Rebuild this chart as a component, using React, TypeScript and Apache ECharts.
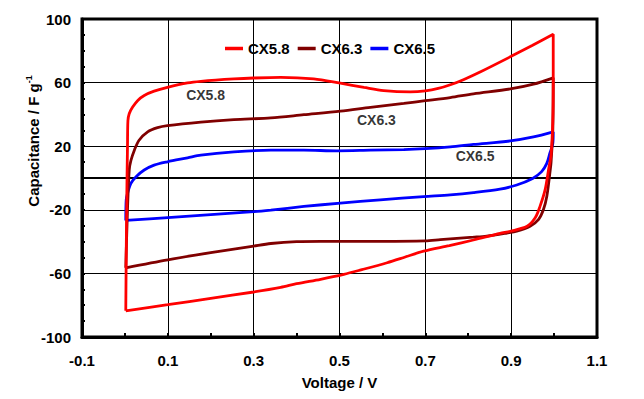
import React, { useEffect, useRef } from 'react';
import * as echarts from 'echarts';

const seriesNames = ['CX5.8', 'CX6.3', 'CX6.5'];
const seriesColors = ['#ff0000', '#800000', '#0000ff'];

// [voltage, capacitance] — closed CV loops (corner points repeated to keep them sharp)
const cx58: number[][] = [
  [0.002, -83.5], [0.004, -20], [0.006, 20], [0.007, 36], [0.010, 40.4], [0.018, 44.6],
  [0.030, 48.8], [0.045, 51.9], [0.068, 54.6], [0.099, 57], [0.146, 59.8], [0.177, 60.8],
  [0.254, 62.3], [0.30, 62.9], [0.363, 63.3], [0.44, 62.3], [0.502, 59.6], [0.557, 57],
  [0.603, 55], [0.665, 54.2], [0.70, 54.8], [0.73, 56.3], [0.76, 58.8], [0.79, 62],
  [0.83, 67], [0.90, 76.5], [0.95, 83.5], [0.998, 90.4], [0.998, 90.4],
  [0.998, 60], [0.997, 36], [0.993, 15], [0.987, 5], [0.979, -7.5], [0.967, -18],
  [0.956, -25], [0.937, -30.4], [0.898, -33.5], [0.874, -34.8], [0.812, -39],
  [0.756, -42.5], [0.696, -46], [0.65, -50], [0.611, -53.3], [0.55, -57.8], [0.51, -60.6],
  [0.456, -63.7], [0.40, -66.5], [0.363, -68.8], [0.30, -71.7], [0.20, -75.7], [0.10, -79.7],
  [0.002, -83.5], [0.002, -83.5],
];

const cx63: number[][] = [
  [0.002, -56.5], [0.006, -20], [0.010, 5], [0.014, 11], [0.022, 17.5], [0.033, 23.75],
  [0.053, 29], [0.076, 31.7], [0.099, 33], [0.177, 35.2], [0.254, 36.7], [0.34, 37.8],
  [0.417, 39.8], [0.502, 42], [0.572, 44.4], [0.65, 46.9], [0.70, 48.6], [0.758, 50.6],
  [0.812, 52.9], [0.898, 56], [0.952, 59], [0.998, 63], [0.998, 63],
  [0.997, 30], [0.993, 10], [0.991, 5], [0.983, -11.7], [0.975, -20], [0.964, -26],
  [0.944, -30.4], [0.913, -33.5], [0.89, -34.6], [0.843, -36.5], [0.812, -37.2],
  [0.735, -38.75], [0.70, -39.5], [0.60, -39.8], [0.456, -39.8], [0.40, -40], [0.34, -41.2],
  [0.30, -42.8], [0.20, -47], [0.10, -51.5], [0.002, -56.5], [0.002, -56.5],
];

const cx65: number[][] = [
  [0.002, -26.7], [0.003, -13.75], [0.006, -9.6], [0.014, -3.3], [0.026, 0.8], [0.045, 5],
  [0.068, 8.1], [0.099, 10.2], [0.146, 12.7], [0.177, 14.4], [0.254, 16.4], [0.34, 17.5],
  [0.417, 17.5], [0.495, 17.1], [0.572, 17.5], [0.65, 17.9], [0.70, 18.5], [0.758, 19.6],
  [0.812, 21.1], [0.898, 23.3], [0.952, 25.8], [0.998, 29], [0.998, 29],
  [0.997, 21.7], [0.99, 15.4], [0.983, 9.2], [0.971, 4], [0.95, -0.3], [0.913, -4.4],
  [0.874, -7], [0.812, -9.2], [0.758, -10.6], [0.696, -11.7], [0.595, -13.75],
  [0.502, -15.8], [0.417, -17.9], [0.34, -20.2], [0.30, -21.2], [0.10, -24.9],
  [0.002, -26.7], [0.002, -26.7],
];

const seriesData = [cx58, cx63, cx65];

const annotationText = ['CX5.8', 'CX6.3', 'CX6.5'];
const annotationX = [0.188, 0.586, 0.816];
const annotationY = [52.5, 36.25, 13.75];

const xMin = -0.1;
const xMax = 1.1;
const xInterval = 0.2;
const yMin = -100;
const yMax = 100;
const yInterval = 40;

const FONT = "'Liberation Sans', Arial, sans-serif";

export default function App() {
  const ref = useRef<HTMLDivElement>(null);
  useEffect(() => {
    if (!ref.current) return;
    const chart = echarts.init(ref.current, undefined, { renderer: 'svg' });
    const lineSeries = seriesNames.map((name, i) => ({
      name,
      type: 'line',
      data: seriesData[i],
      symbol: 'none',
      showSymbol: false,
      smooth: 0.3,
      lineStyle: { color: seriesColors[i], width: 2.8 },
      itemStyle: { color: seriesColors[i] },
      z: 5 - i,
      ...(i === 0
        ? {
            markLine: {
              silent: true,
              symbol: 'none',
              label: { show: false },
              lineStyle: { color: '#000', width: 2, type: 'solid' },
              data: [{ yAxis: 0 }],
              z: 1,
            },
          }
        : {}),
    }));
    chart.setOption({
      animation: false,
      backgroundColor: '#fff',
      textStyle: { fontFamily: FONT },
      grid: {
        left: 82,
        right: 47,
        top: 19,
        bottom: 62,
        show: true,
        borderColor: '#000',
        borderWidth: 3,
        backgroundColor: 'transparent',
      },
      legend: {
        data: seriesNames.map((n) => ({ name: n, icon: 'rect' })),
        left: 220,
        top: 36,
        itemWidth: 18,
        itemHeight: 3.5,
        itemGap: 8,
        textStyle: { fontSize: 15, fontWeight: 'bold', color: '#000', fontFamily: FONT },
      },
      xAxis: {
        type: 'value',
        min: xMin,
        max: xMax,
        interval: xInterval,
        name: 'Voltage / V',
        nameLocation: 'middle',
        nameGap: 38,
        nameTextStyle: { fontSize: 15, fontWeight: 'bold', color: '#000', fontFamily: FONT },
        axisLine: { show: true, onZero: false, lineStyle: { color: '#000', width: 3 } },
        axisTick: { show: true, inside: true, length: 4, lineStyle: { color: '#000', width: 2 } },
        minorTick: { show: true, splitNumber: 2, length: 4, lineStyle: { color: '#000', width: 2 } },
        axisLabel: {
          fontSize: 15,
          fontWeight: 'bold',
          color: '#000',
          margin: 16,
          fontFamily: FONT,
          formatter: (v: number) => v.toFixed(1),
        },
        splitLine: { show: true, lineStyle: { color: '#000', width: 1 } },
      },
      yAxis: {
        type: 'value',
        min: yMin,
        max: yMax,
        interval: yInterval,
        axisLine: { show: true, onZero: false, lineStyle: { color: '#000', width: 3 } },
        axisTick: { show: true, inside: true, length: 3, lineStyle: { color: '#000', width: 2 } },
        minorTick: { show: true, splitNumber: 4, length: 3, lineStyle: { color: '#000', width: 2 } },
        axisLabel: {
          fontSize: 15,
          fontWeight: 'bold',
          color: '#000',
          margin: 11,
          fontFamily: FONT,
          formatter: (v: number) => String(Math.round(v)),
        },
        splitLine: { show: true, lineStyle: { color: '#000', width: 1 } },
      },
      graphic: [
        {
          type: 'text',
          x: 33,
          y: 141,
          rotation: Math.PI / 2,
          style: {
            text: 'Capacitance / F g{sup|-1}',
            fontSize: 15,
            fontWeight: 'bold',
            fontFamily: FONT,
            fill: '#000',
            align: 'center',
            verticalAlign: 'middle',
            rich: {
              sup: { fontSize: 9, fontWeight: 'bold', fontFamily: FONT, fill: '#000', verticalAlign: 'top', lineHeight: 17 },
            },
          },
        },
      ],
      series: [
        ...lineSeries,
        {
          name: 'annotations',
          type: 'scatter',
          data: annotationText.map((t, i) => ({ name: t, value: [annotationX[i], annotationY[i]] })),
          symbolSize: 1,
          itemStyle: { color: 'rgba(0,0,0,0)' },
          silent: true,
          z: 10,
          label: {
            show: true,
            position: 'inside',
            formatter: (p: any) => p.name,
            fontSize: 14,
            fontWeight: 'bold',
            color: '#000',
            fontFamily: FONT,
          },
        },
      ],
    });
    return () => chart.dispose();
  }, []);
  return (
    <div
      ref={ref}
      style={{ position: 'absolute', left: 0, top: 0, width: 644, height: 399, background: '#fff' }}
    />
  );
}
